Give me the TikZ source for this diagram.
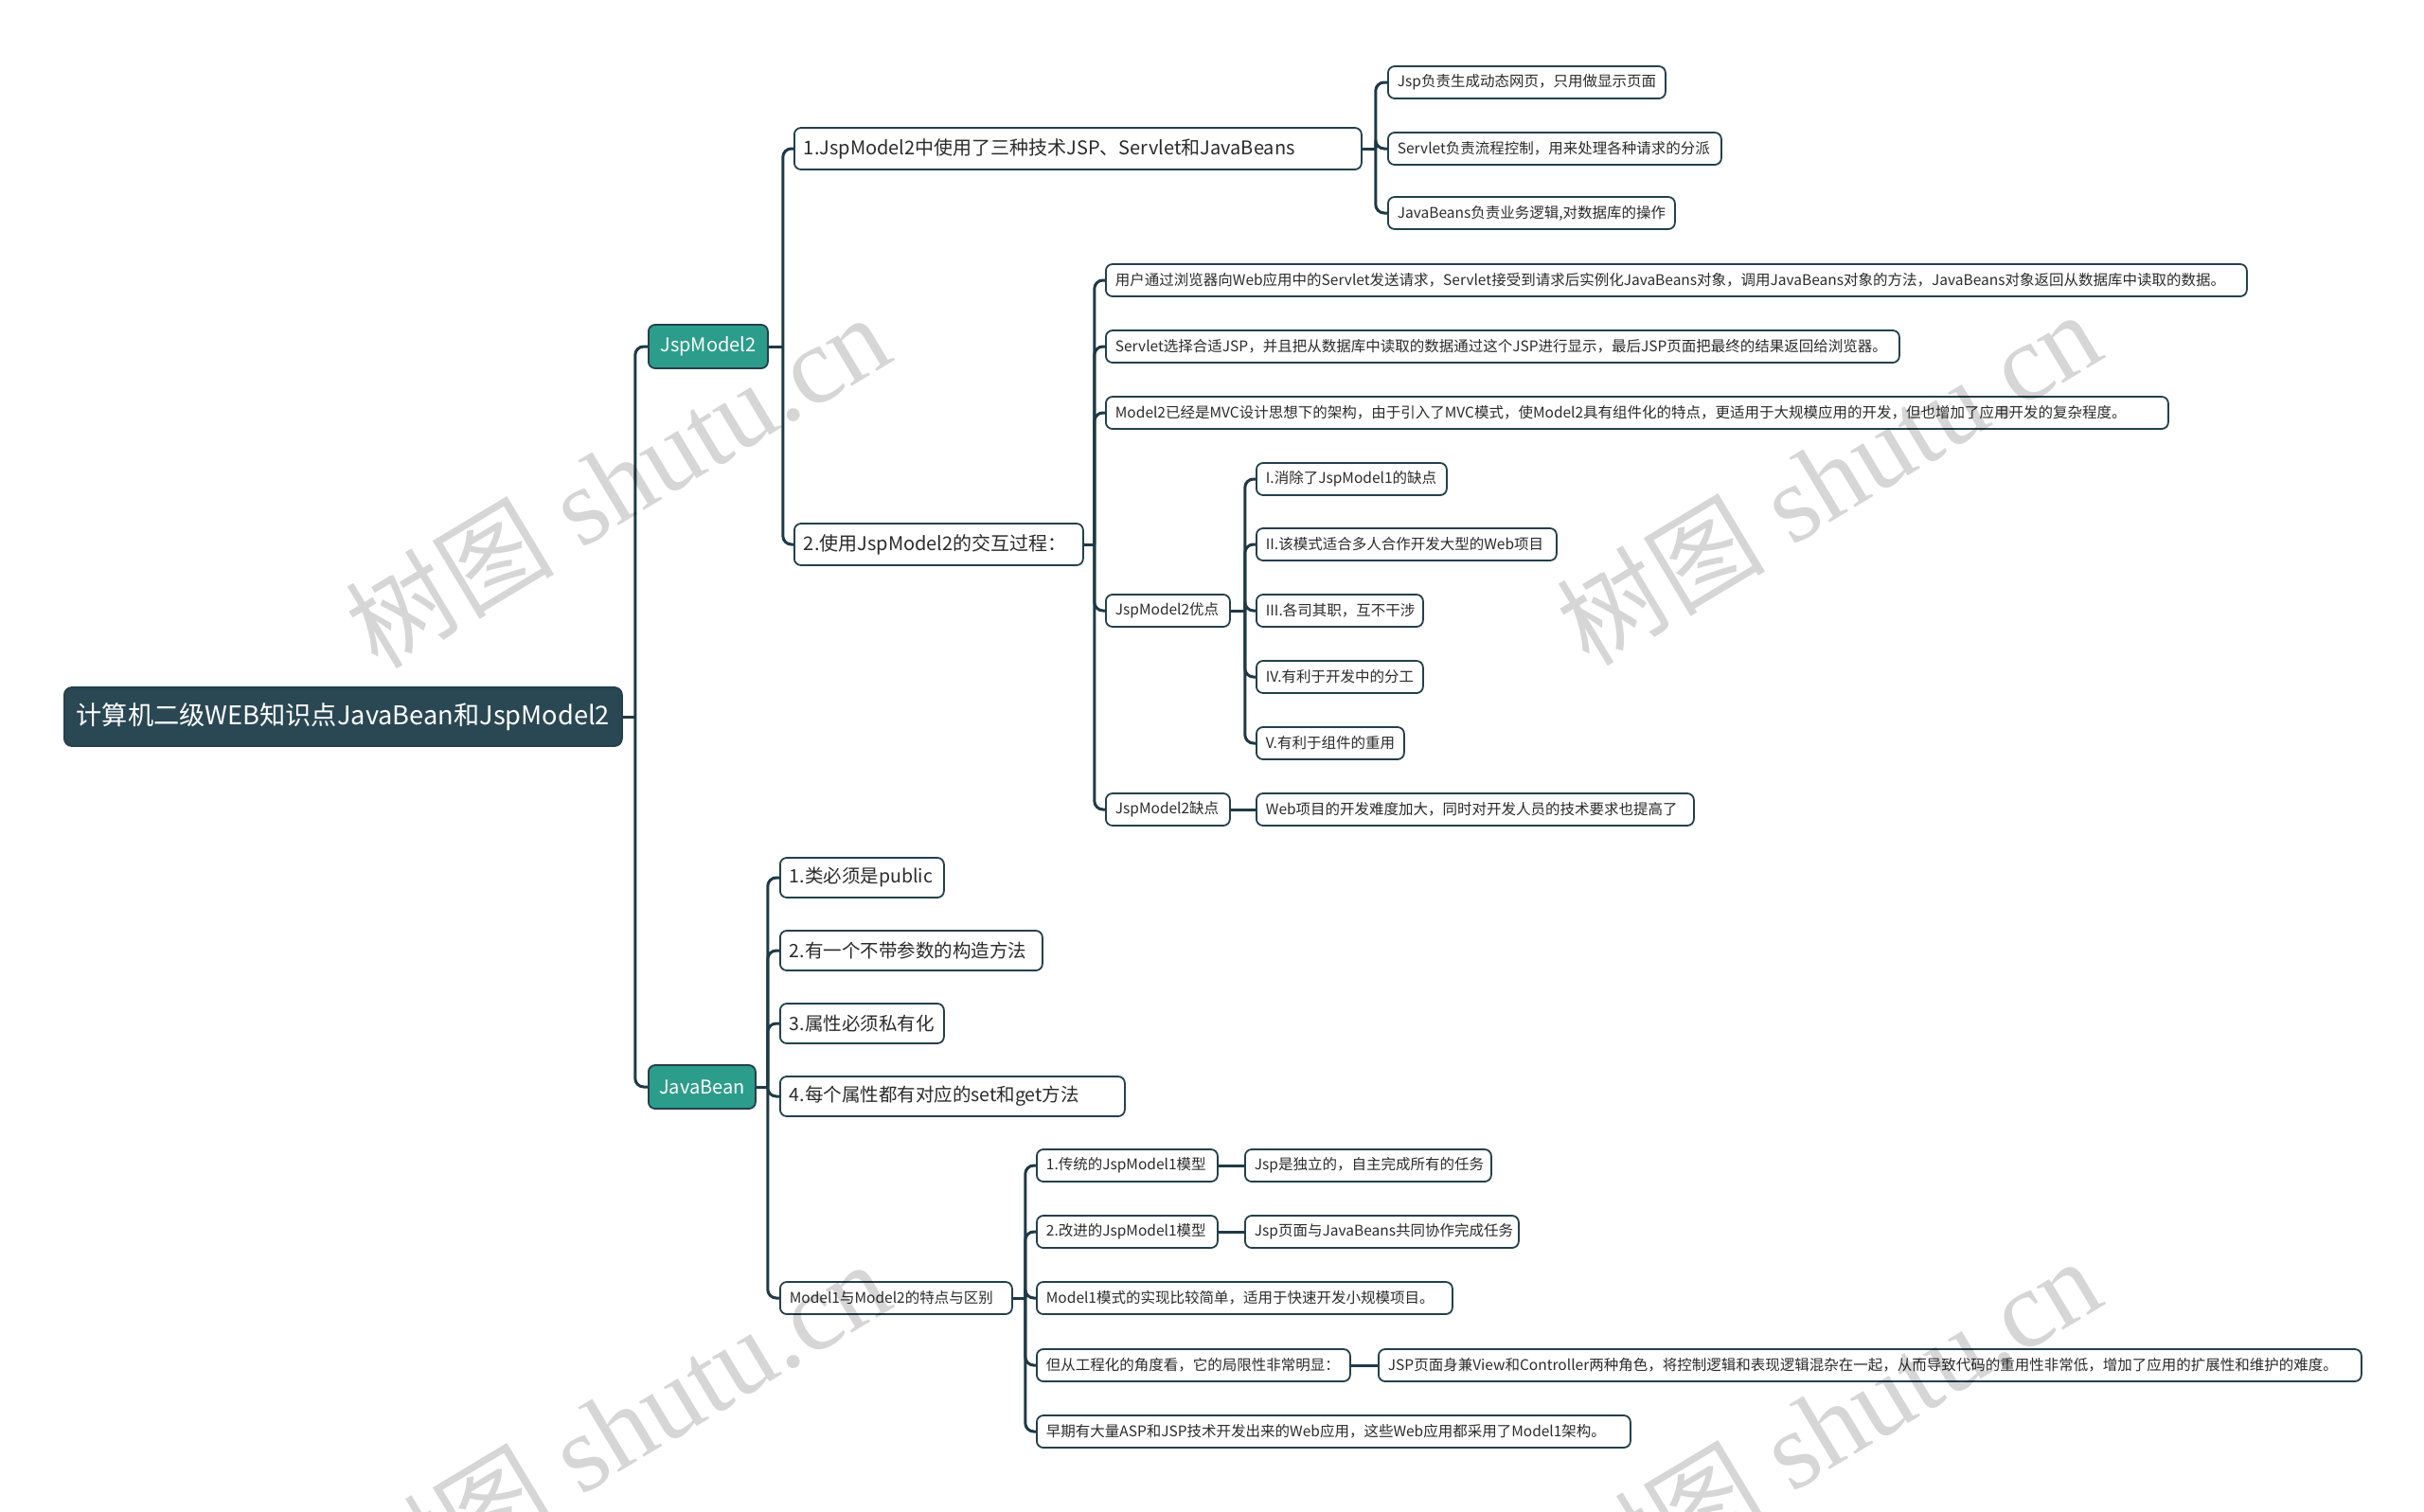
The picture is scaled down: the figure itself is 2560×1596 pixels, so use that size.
\documentclass[tikz,border=0pt]{standalone}
\usepackage{fontspec}
\setmainfont{Noto Sans CJK SC}
\newfontfamily\wmlatin{Liberation Serif}
\newfontfamily\wmcjk{Noto Sans CJK SC}
\definecolor{lc}{HTML}{1F3A45}
\definecolor{bc}{HTML}{24404B}
\definecolor{tc}{HTML}{2B2B2B}
\definecolor{rc}{HTML}{2A4854}
\definecolor{tl}{HTML}{2C9D8B}
\newcommand\fsz[1]{\fontsize{#1}{#1}\selectfont}
\begin{document}
\begin{tikzpicture}[x=1pt,y=-1pt,
  conn/.style={draw=lc, line width=3pt, rounded corners=9pt},
  box/.style={draw=bc, line width=1.8pt, fill=white, rounded corners=7pt, text=tc, inner ysep=0pt, inner xsep=10pt, anchor=west},
  bw/.style={minimum width=#1pt, text width=#1pt-20pt, align=left},
  sm/.style={box, minimum height=34pt, font=\fsz{15.5}},
  md/.style={box, minimum height=42pt, font=\fsz{19.5}},
  lv/.style={box, minimum height=44pt, font=\fsz{20}},
  tealbox/.style={box, inner xsep=0pt, fill=tl, text=white, minimum height=46pt, font=\fsz{20}},
  rootbox/.style={box, inner xsep=0pt, fill=rc, text=white, minimum height=62pt, rounded corners=8pt, font=\fsz{27.2}},
  wm/.style={text=black, text opacity=0.16, rotate=31, inner sep=0pt}
]
\useasboundingbox (0,0) rectangle (2560,1596);
\fill[white] (0,0) rectangle (2560,1596);

% nodes
\node[rootbox, minimum width=589pt] (root) at (67,757) {计算机二级WEB知识点JavaBean和JspModel2};
\node[tealbox, minimum width=126pt] (jsp) at (684,366) {JspModel2};
\node[tealbox, minimum width=113pt] (jb) at (684,1148) {JavaBean};

\node[lv, bw=599] (a1) at (838,157) {1.JspModel2中使用了三种技术JSP、Servlet和JavaBeans};
\node[lv, bw=305] (a2) at (838,575) {2.使用JspModel2的交互过程：};

\node[sm, bw=293] (a11) at (1465,87) {Jsp负责生成动态网页，只用做显示页面};
\node[sm, bw=352] (a12) at (1465,157) {Servlet负责流程控制，用来处理各种请求的分派};
\node[sm, bw=303] (a13) at (1465,225) {JavaBeans负责业务逻辑,对数据库的操作};

\node[sm, bw=1205] (a21) at (1167,296) {用户通过浏览器向Web应用中的Servlet发送请求，Servlet接受到请求后实例化JavaBeans对象，调用JavaBeans对象的方法，JavaBeans对象返回从数据库中读取的数据。};
\node[sm, bw=838] (a22) at (1167,366) {Servlet选择合适JSP，并且把从数据库中读取的数据通过这个JSP进行显示，最后JSP页面把最终的结果返回给浏览器。};
\node[sm, bw=1122] (a23) at (1167,436) {Model2已经是MVC设计思想下的架构，由于引入了MVC模式，使Model2具有组件化的特点，更适用于大规模应用的开发，但也增加了应用开发的复杂程度。};
\node[sm, bw=131] (a24) at (1167,645) {JspModel2优点};
\node[sm, bw=131] (a25) at (1167,855) {JspModel2缺点};

\node[sm, bw=201] (p1) at (1326,506) {I.消除了JspModel1的缺点};
\node[sm, bw=317] (p2) at (1326,575) {II.该模式适合多人合作开发大型的Web项目};
\node[sm, bw=176] (p3) at (1326,645) {III.各司其职，互不干涉};
\node[sm, bw=176] (p4) at (1326,715) {IV.有利于开发中的分工};
\node[sm, bw=156] (p5) at (1326,785) {V.有利于组件的重用};
\node[sm, bw=462] (q1) at (1326,855) {Web项目的开发难度加大，同时对开发人员的技术要求也提高了};

\node[md, bw=173] (b1) at (823,927) {1.类必须是public};
\node[md, bw=277] (b2) at (823,1004) {2.有一个不带参数的构造方法};
\node[md, bw=173] (b3) at (823,1081) {3.属性必须私有化};
\node[md, bw=364] (b4) at (823,1158) {4.每个属性都有对应的set和get方法};
\node[sm, bw=245] (b5) at (823,1371) {Model1与Model2的特点与区别};

\node[sm, bw=191] (c1) at (1094,1231) {1.传统的JspModel1模型};
\node[sm, bw=260] (c1x) at (1314,1231) {Jsp是独立的，自主完成所有的任务};
\node[sm, bw=191] (c2) at (1094,1301) {2.改进的JspModel1模型};
\node[sm, bw=289] (c2x) at (1314,1301) {Jsp页面与JavaBeans共同协作完成任务};
\node[sm, bw=439] (c3) at (1094,1371) {Model1模式的实现比较简单，适用于快速开发小规模项目。};
\node[sm, bw=331] (c4) at (1094,1442) {但从工程化的角度看，它的局限性非常明显：};
\node[sm, bw=1038] (c4x) at (1455,1442) {JSP页面身兼View和Controller两种角色，将控制逻辑和表现逻辑混杂在一起，从而导致代码的重用性非常低，增加了应用的扩展性和维护的难度。};
\node[sm, bw=627] (c5) at (1094,1512) {早期有大量ASP和JSP技术开发出来的Web应用，这些Web应用都采用了Model1架构。};

% branch points
\coordinate (k0) at ([xshift=13pt]root.east);
\coordinate (kj) at ([xshift=15pt]jsp.east);
\coordinate (k1) at ([xshift=14pt]a1.east);
\coordinate (k2) at ([xshift=11pt]a2.east);
\coordinate (k4) at ([xshift=15pt]a24.east);
\coordinate (kb) at ([xshift=12pt]jb.east);
\coordinate (k5) at ([xshift=13pt]b5.east);

% connectors
\draw[conn] (root.east) -- (k0);
\draw[conn] (k0) |- (jsp.west);
\draw[conn] (k0) |- (jb.west);

\draw[conn] (jsp.east) -- (kj);
\draw[conn] (kj) |- (a1.west);
\draw[conn] (kj) |- (a2.west);

\draw[conn] (a1.east) -- (k1);
\foreach \n in {a11,a12,a13} \draw[conn] (k1) |- (\n.west);

\draw[conn] (a2.east) -- (k2);
\foreach \n in {a21,a22,a23,a24,a25} \draw[conn] (k2) |- (\n.west);

\draw[conn] (a24.east) -- (k4);
\foreach \n in {p1,p2,p3,p4,p5} \draw[conn] (k4) |- (\n.west);
\draw[conn] (a25.east) -- (q1.west);

\draw[conn] (jb.east) -- (kb);
\foreach \n in {b1,b2,b3,b4,b5} \draw[conn] (kb) |- (\n.west);

\draw[conn] (b5.east) -- (k5);
\foreach \n in {c1,c2,c3,c4,c5} \draw[conn] (k5) |- (\n.west);
\draw[conn] (c1.east) -- (c1x.west);
\draw[conn] (c2.east) -- (c2x.west);
\draw[conn] (c4.east) -- (c4x.west);

% watermark
\foreach \i/\px/\py in {1/652/508, 2/1931/505, 3/652/1508, 4/1931/1505}{
  \node[wm] (wm\i) at (\px,\py) {{\wmcjk\fsz{110}树图}{\wmlatin\fsz{116}\ shutu.cn}};
}
\end{tikzpicture}
\end{document}
